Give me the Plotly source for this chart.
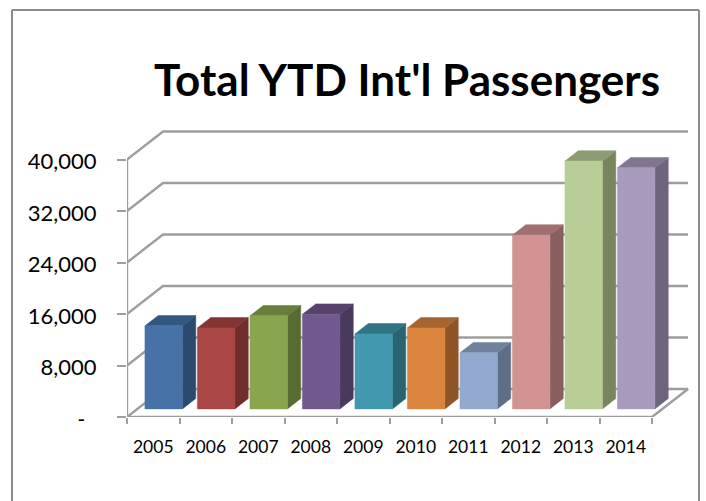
import plotly.graph_objects as go

years = ["2005", "2006", "2007", "2008", "2009", "2010", "2011", "2012", "2013", "2014"]
passengers = [12900, 12580, 14450, 14700, 11650, 12580, 8700, 27000, 38500, 37440]
front_colors = ["#4672A8", "#AA4643", "#89A54E", "#71588F", "#4198AF", "#DB843D", "#93A9CF", "#D19392", "#B9CD96", "#A99BBD"]
top_colors = ["#345780", "#823533", "#687E3B", "#56436D", "#317485", "#A7642E", "#70819E", "#9F706F", "#8D9C72", "#817690"]
side_colors = ["#2C4A6D", "#6F2D2B", "#586B32", "#49395D", "#2A6371", "#8E5527", "#5F6E87", "#885F5E", "#78855F", "#6E647B"]
y_ticks = [0, 8000, 16000, 24000, 32000, 40000]
y_labels = ["-\u00a0\u00a0", "8,000", "16,000", "24,000", "32,000", "40,000"]

GRID = "#9E9E9E"
FONT = "Lato"
W, H = 706, 501
LEFT, RIGHT, TOP, BOTTOM = 127, 690, 130, 417
PX_X = 52.5
PX_Y = 257.5 / 40000
DEPTH_X = 36 / PX_X
DEPTH_Y = 28 / PX_Y
BAR_W = 37.5 / PX_X
D0, D1 = 0.29, 0.66
N = len(years)


def proj(x, y, d):
    return x + d * DEPTH_X, y + d * DEPTH_Y


def poly(points, fill):
    return go.Scatter(x=[p[0] for p in points], y=[p[1] for p in points], mode="lines", fill="toself",
                      fillcolor=fill, line=dict(color=fill, width=0.5), hoverinfo="skip", showlegend=False)


def path(points, width=2.4):
    return go.Scatter(x=[p[0] for p in points], y=[p[1] for p in points], mode="lines",
                      line=dict(color=GRID, width=width), hoverinfo="skip", showlegend=False)


fig = go.Figure()
xl, xr = -0.5, N - 0.5
for t in y_ticks[1:]:
    fig.add_trace(path([proj(xl, t, 0), proj(xl, t, 1), proj(xr, t, 1)]))
fig.add_trace(path([proj(xl, 0, 0), proj(xl, 0, 1), proj(xr, 0, 1), proj(xr, 0, 0), proj(xl, 0, 0)]))
fig.add_trace(path([proj(xl, 0, 0), proj(xl, y_ticks[-1], 0)]))

for i, v in enumerate(passengers):
    a, b = i - BAR_W / 2, i + BAR_W / 2
    fig.add_trace(poly([proj(b, 0, D0), proj(b, 0, D1), proj(b, v, D1), proj(b, v, D0), proj(b, 0, D0)], side_colors[i]))
    fig.add_trace(poly([proj(a, v, D0), proj(a, v, D1), proj(b, v, D1), proj(b, v, D0), proj(a, v, D0)], top_colors[i]))
    fig.add_trace(go.Scatter(
        x=[proj(a, 0, D0)[0], proj(b, 0, D0)[0], proj(b, v, D0)[0], proj(a, v, D0)[0], proj(a, 0, D0)[0]],
        y=[proj(a, 0, D0)[1], proj(b, 0, D0)[1], proj(b, v, D0)[1], proj(a, v, D0)[1], proj(a, 0, D0)[1]],
        mode="lines", fill="toself", fillcolor=front_colors[i],
        line=dict(color=front_colors[i], width=0.5), name=years[i],
        text=f"{years[i]}: {v:,}", hoverinfo="text", hoveron="fills", showlegend=False))

fx0, fx1 = (12 - LEFT) / (RIGHT - LEFT), (699 - LEFT) / (RIGHT - LEFT)
fy0, fy1 = (BOTTOM - 520) / (BOTTOM - TOP), (BOTTOM - 10) / (BOTTOM - TOP)
frame = dict(type="line", xref="paper", yref="paper", layer="above", line=dict(color="#8C8C8C", width=2))

fig.update_layout(
    width=W, height=H, autosize=False,
    margin=dict(l=LEFT, r=W - RIGHT, t=TOP, b=H - BOTTOM, pad=0),
    paper_bgcolor="white", plot_bgcolor="white",
    font=dict(family=FONT, color="black"),
    title=dict(text="<b>Total YTD Int'l Passengers</b>", font=dict(family=FONT, size=44, color="black"),
               x=407 / W, xanchor="center", y=1 - 81 / H, yanchor="middle"),
    xaxis=dict(range=[xl, xl + (RIGHT - LEFT) / PX_X], tickmode="array", tickvals=list(range(N)), ticktext=years,
               ticks="outside", ticklen=0, tickcolor=GRID, showgrid=False, zeroline=False, showline=False,
               tickfont=dict(family=FONT, size=17.5), ticklabelstandoff=14,
               minor=dict(tickmode="array", tickvals=[k - 0.5 for k in range(N + 1)], ticks="outside",
                          ticklen=6, tickcolor=GRID, tickwidth=2, showgrid=False)),
    yaxis=dict(range=[0, (BOTTOM - TOP) / PX_Y], tickmode="array", tickvals=y_ticks, ticktext=y_labels,
               ticks="outside", ticklen=9, tickwidth=2, tickcolor=GRID, showgrid=False, zeroline=False,
               showline=False, tickfont=dict(family=FONT, size=22), ticklabelstandoff=16, ticklabelshift=2),
    shapes=[dict(frame, x0=fx0, x1=fx0, y0=fy0, y1=fy1),
            dict(frame, x0=fx1, x1=fx1, y0=fy0, y1=fy1),
            dict(frame, x0=fx0, x1=fx1, y0=fy1, y1=fy1)],
)
fig.write_html("out.html", config={"displayModeBar": False},
               post_script="document.body.style.margin='0';document.body.style.overflow='hidden';")
